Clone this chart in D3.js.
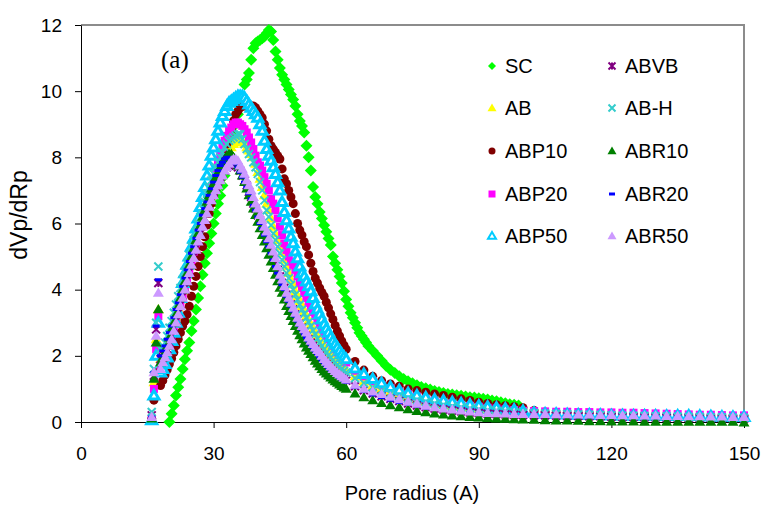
<!DOCTYPE html>
<html lang="en">
<head>
  <meta charset="UTF-8">
  <title>Pore size distribution</title>
  <script src="https://cdn.jsdelivr.net/npm/d3@7/dist/d3.min.js"></script>
  <style>
    body {
      margin: 0;
      padding: 0;
      background: #fff;
      font-family: Arial, "Liberation Sans", sans-serif;
    }
    .tick text {
      font-family: Arial, "Liberation Sans", sans-serif;
      font-size: 19px;
      fill: #000;
    }
    .legend text {
      font-size: 20px;
      fill: #000;
    }
  </style>
</head>
<body>
  <div id="chart"></div>
  <script>
    const width = 767;
    const height = 510;

    // radius grid shared by the AB family of samples
    const radius = [16, 16.5, 17, 17.5,
      18, 18.5, 19, 19.5, 20, 20.5, 21, 21.5, 22, 22.5,
      23, 23.5, 24, 24.5, 25, 25.5, 26, 26.5, 27, 27.5,
      28, 28.5, 29, 29.5, 30, 30.5, 31, 31.5, 32, 32.5,
      33, 33.5, 34, 34.5, 35, 35.5, 36, 36.5, 37, 37.5,
      38, 38.5, 39, 39.5, 40, 40.5, 41, 41.5, 42, 42.5,
      43, 43.5, 44, 44.5, 45, 45.5, 46, 46.5, 47, 47.5,
      48, 48.5, 49, 49.5, 50, 50.5, 51, 51.5, 52, 52.5,
      53, 53.5, 54, 54.5, 55, 55.5, 56, 56.5, 57, 57.5,
      58, 58.5, 59, 59.5, 60,
      62, 64, 66, 68, 70, 72, 74, 76, 78, 80, 82, 84, 86, 88, 90, 92, 94, 96, 98, 100,
      102.5, 105, 107.5, 110, 112.5, 115, 117.5, 120, 122.5, 125,
      127.5, 130, 132.5, 135, 137.5, 140, 142.5, 145, 147.5, 150];

    // SC has its own grid
    const scRadius = [20, 20.5, 21, 21.5, 22, 22.5, 23, 23.5, 24, 24.5,
      25, 25.5, 26, 26.5, 27, 27.5, 28, 28.5, 29, 29.5,
      30, 30.5, 31, 31.5, 32, 32.5, 33, 33.5, 34, 34.5,
      35, 35.5, 36, 36.5, 37, 37.5, 38, 38.5, 39, 39.5,
      40, 40.5, 41, 41.5, 42, 42.5, 43, 43.5, 44, 44.5,
      45, 45.5, 46, 46.5, 47, 47.5, 48, 48.5, 49, 49.5,
      50, 50.5, 51, 51.5, 52, 52.5, 53, 53.5, 54, 54.5,
      55, 55.5, 56, 56.5, 57, 57.5, 58, 58.5, 59, 59.5,
      60, 60.5, 61, 61.5, 62, 62.5, 63, 63.5, 64, 64.5,
      65,
      66, 67, 68, 69, 70, 71, 72, 73, 74, 75,
      76, 77, 78, 79, 80, 81, 82, 83, 84, 85,
      86, 87, 88, 89, 90, 91, 92, 93, 94, 95,
      96, 97, 98, 99];

    const SC = [0, 0.25, 0.5, 0.8, 1.05, 1.3, 1.6, 1.9, 2.15, 2.4,
      2.75, 3.05, 3.4, 3.75, 4.1, 4.45, 4.8, 5.1, 5.4, 5.7,
      6.0, 6.3, 6.6, 6.85, 7.15, 7.45, 7.8, 8.1, 8.4, 8.7,
      9.0, 9.3, 9.6, 9.85, 10.2, 10.35, 10.55, 10.95, 11.3, 11.45,
      11.5, 11.55, 11.6, 11.65, 11.75, 11.85, 11.8, 11.55, 11.2, 10.95,
      10.7, 10.5, 10.35, 10.2, 10.05, 9.9, 9.75, 9.55, 9.3, 9.1,
      8.95, 8.75, 8.35, 8.0, 7.6, 7.1, 6.8, 6.6, 6.35, 6.15,
      5.95, 5.75, 5.55, 5.35, 5.0, 4.8, 4.6, 4.4, 4.2, 3.95,
      3.7, 3.5, 3.3, 3.15, 3.0, 2.85, 2.7, 2.6, 2.5, 2.4,
      2.3,
      2.15, 2.0, 1.85, 1.7, 1.58, 1.48, 1.38, 1.3, 1.23, 1.17,
      1.11, 1.06, 1.02, 0.98, 0.94, 0.91, 0.88, 0.85, 0.83, 0.81,
      0.79, 0.77, 0.75, 0.74, 0.72, 0.7, 0.68, 0.65, 0.63, 0.6,
      0.57, 0.54, 0.52, 0.5];

    const AB = [0.1, 1.2, 2.5, 3.4,
      1.9, 2.0, 2.1, 2.3, 2.5, 2.7, 2.95, 3.2, 3.45, 3.7,
      3.95, 4.2, 4.45, 4.7, 4.95, 5.2, 5.45, 5.7, 5.9, 6.15,
      6.35, 6.6, 6.8, 7.0, 7.2, 7.4, 7.55, 7.7, 7.85, 8.0,
      8.1, 8.2, 8.3, 8.4, 8.45, 8.5, 8.5, 8.45, 8.4, 8.3,
      8.2, 8.1, 8.0, 7.8, 7.55, 7.35, 7.1, 6.85, 6.6, 6.4,
      6.15, 5.9, 5.7, 5.5, 5.3, 5.1, 4.9, 4.7, 4.5, 4.3,
      4.15, 3.95, 3.8, 3.65, 3.5, 3.35, 3.2, 3.07, 2.95, 2.82,
      2.7, 2.6, 2.5, 2.4, 2.3, 2.2, 2.1, 2.02, 1.95, 1.87,
      1.8, 1.74, 1.68, 1.62, 1.56,
      1.38, 1.22, 1.1, 1.0, 0.9, 0.82, 0.75, 0.68, 0.62, 0.57, 0.53, 0.49, 0.46, 0.43, 0.4, 0.38, 0.36, 0.34, 0.32, 0.3,
      0.29, 0.28, 0.27, 0.26, 0.25, 0.24, 0.23, 0.22, 0.21, 0.21,
      0.2, 0.19, 0.18, 0.18, 0.17, 0.16, 0.16, 0.15, 0.15, 0.14];

    const ABP10 = [0.1, 0.66, 1.5, 2.2,
      1.1, 1.25, 1.42, 1.58, 1.75, 1.92, 2.1, 2.3, 2.5, 2.7,
      2.9, 3.05, 3.25, 3.5, 3.8, 4.1, 4.4, 4.7, 5.0, 5.3,
      5.6, 5.95, 6.3, 6.6, 6.85, 7.1, 7.4, 7.65, 7.9, 8.15,
      8.4, 8.6, 8.85, 9.1, 9.3, 9.4, 9.5, 9.55, 9.55, 9.55,
      9.55, 9.55, 9.55, 9.5, 9.4, 9.3, 9.2, 9.0, 8.8, 8.55,
      8.35, 8.25, 8.15, 8.05, 7.95, 7.65, 7.35, 7.2, 7.0, 6.8,
      6.6, 6.3, 6.0, 5.8, 5.65, 5.45, 5.3, 5.05, 4.8, 4.55,
      4.35, 4.2, 4.05, 3.92, 3.8, 3.62, 3.45, 3.27, 3.1, 2.92,
      2.75, 2.6, 2.45, 2.32, 2.2,
      1.83, 1.57, 1.38, 1.25, 1.15, 1.08, 1.0, 0.95, 0.9, 0.85, 0.8, 0.75, 0.7, 0.65, 0.6, 0.56, 0.52, 0.49, 0.46, 0.43,
      0.35, 0.3, 0.28, 0.27, 0.26, 0.25, 0.24, 0.23, 0.22, 0.21,
      0.2, 0.2, 0.19, 0.18, 0.18, 0.17, 0.16, 0.16, 0.15, 0.15];

    const ABP20 = [0.1, 1.0, 2.2, 3.2,
      1.7, 1.8, 1.9, 2.1, 2.3, 2.5, 2.75, 3.0, 3.25, 3.5,
      3.8, 4.05, 4.35, 4.6, 4.9, 5.15, 5.4, 5.65, 5.9, 6.15,
      6.4, 6.65, 6.9, 7.1, 7.35, 7.6, 7.9, 8.1, 8.3, 8.5,
      8.65, 8.8, 8.9, 9.0, 9.05, 9.05, 9.0, 8.95, 8.85, 8.75,
      8.6, 8.45, 8.25, 8.05, 7.85, 7.75, 7.6, 7.4, 7.2, 7.0,
      6.75, 6.6, 6.4, 6.15, 5.9, 5.65, 5.4, 5.2, 5.0, 4.85,
      4.75, 4.6, 4.4, 4.2, 4.05, 3.9, 3.75, 3.6, 3.45, 3.32,
      3.2, 3.07, 2.95, 2.82, 2.7, 2.6, 2.5, 2.4, 2.3, 2.2,
      2.1, 2.02, 1.95, 1.87, 1.8,
      1.55, 1.38, 1.24, 1.12, 1.02, 0.92, 0.84, 0.77, 0.7, 0.65, 0.6, 0.56, 0.52, 0.49, 0.46, 0.43, 0.41, 0.38, 0.36, 0.34,
      0.33, 0.32, 0.31, 0.31, 0.3, 0.3, 0.29, 0.29, 0.28, 0.28,
      0.27, 0.26, 0.25, 0.24, 0.23, 0.22, 0.22, 0.21, 0.2, 0.2];

    const ABP50 = [0.05, 0.8, 2.0, 3.0,
      1.5, 1.6, 1.75, 1.95, 2.2, 2.45, 2.7, 3.0, 3.3, 3.75,
      4.2, 4.5, 4.75, 5.0, 5.3, 5.55, 5.85, 6.15, 6.5, 6.8,
      7.1, 7.45, 7.75, 8.05, 8.3, 8.55, 8.8, 9.05, 9.25, 9.4,
      9.55, 9.65, 9.7, 9.75, 9.8, 9.85, 9.85, 9.85, 9.8, 9.7,
      9.6, 9.5, 9.4, 9.3, 9.2, 9.0, 8.8, 8.5, 8.25, 8.05,
      7.9, 7.7, 7.5, 7.25, 7.0, 6.65, 6.35, 6.1, 5.85, 5.6,
      5.4, 5.15, 4.95, 4.7, 4.5, 4.4, 4.25, 4.1, 3.95, 3.75,
      3.55, 3.4, 3.25, 3.1, 2.95, 2.82, 2.7, 2.57, 2.45, 2.35,
      2.25, 2.15, 2.05, 1.97, 1.9,
      1.62, 1.45, 1.3, 1.17, 1.06, 0.96, 0.87, 0.8, 0.74, 0.68, 0.64, 0.6, 0.56, 0.52, 0.49, 0.46, 0.43, 0.4, 0.37, 0.33,
      0.27, 0.25, 0.24, 0.23, 0.22, 0.22, 0.21, 0.2, 0.2, 0.19,
      0.19, 0.19, 0.18, 0.19, 0.19, 0.18, 0.17, 0.16, 0.15, 0.15];

    const ABVB = [0.2, 1.4, 2.8, 4.2,
      1.9, 1.95, 2.0, 2.2, 2.4, 2.6, 2.85, 3.05, 3.3, 3.55,
      3.8, 4.05, 4.3, 4.55, 4.8, 5.0, 5.25, 5.5, 5.7, 5.95,
      6.15, 6.35, 6.55, 6.75, 6.95, 7.1, 7.25, 7.4, 7.5, 7.6,
      7.7, 7.75, 7.8, 7.8, 7.8, 7.7, 7.6, 7.45, 7.3, 7.15,
      6.95, 6.8, 6.6, 6.45, 6.25, 6.1, 5.9, 5.7, 5.5, 5.35,
      5.15, 4.95, 4.75, 4.6, 4.4, 4.2, 4.05, 3.85, 3.7, 3.55,
      3.4, 3.25, 3.1, 2.97, 2.85, 2.72, 2.6, 2.5, 2.4, 2.3,
      2.2, 2.1, 2.02, 1.93, 1.85, 1.77, 1.7, 1.63, 1.56, 1.5,
      1.44, 1.39, 1.34, 1.3, 1.25,
      1.08, 0.96, 0.86, 0.78, 0.7, 0.63, 0.56, 0.5, 0.45, 0.41, 0.38, 0.35, 0.32, 0.29, 0.27, 0.25, 0.24, 0.23, 0.22, 0.21,
      0.2, 0.2, 0.19, 0.18, 0.18, 0.17, 0.17, 0.16, 0.15, 0.15,
      0.14, 0.14, 0.13, 0.13, 0.12, 0.12, 0.11, 0.11, 0.1, 0.1];

    const ABH = [0.3, 1.6, 3.0, 4.7,
      2.2, 2.3, 2.4, 2.6, 2.85, 3.05, 3.3, 3.55, 3.8, 4.05,
      4.3, 4.55, 4.8, 5.05, 5.3, 5.5, 5.75, 6.0, 6.2, 6.45,
      6.65, 6.9, 7.1, 7.3, 7.5, 7.7, 7.85, 8.0, 8.15, 8.3,
      8.4, 8.5, 8.55, 8.6, 8.65, 8.7, 8.7, 8.55, 8.4, 8.25,
      8.1, 8.0, 7.85, 7.7, 7.5, 7.25, 7.0, 6.7, 6.4, 6.2,
      5.95, 5.7, 5.5, 5.3, 5.1, 4.9, 4.7, 4.5, 4.35, 4.15,
      4.0, 3.85, 3.7, 3.55, 3.4, 3.27, 3.15, 3.02, 2.9, 2.77,
      2.65, 2.52, 2.4, 2.3, 2.2, 2.1, 2.02, 1.95, 1.87, 1.8,
      1.73, 1.66, 1.6, 1.55, 1.5,
      1.32, 1.17, 1.05, 0.95, 0.86, 0.78, 0.71, 0.65, 0.6, 0.55, 0.51, 0.47, 0.44, 0.41, 0.38, 0.36, 0.34, 0.32, 0.3, 0.28,
      0.27, 0.26, 0.25, 0.24, 0.23, 0.22, 0.21, 0.2, 0.19, 0.19,
      0.18, 0.17, 0.17, 0.16, 0.15, 0.15, 0.14, 0.14, 0.13, 0.13];

    const ABR10 = [0.1, 1.3, 2.4, 3.4,
      1.8, 1.95, 2.1, 2.3, 2.55, 2.8, 3.0, 3.25, 3.5, 3.75,
      4.0, 4.25, 4.5, 4.75, 5.0, 5.25, 5.5, 5.7, 5.95, 6.2,
      6.4, 6.65, 6.85, 7.05, 7.2, 7.4, 7.55, 7.7, 7.85, 7.95,
      8.05, 8.1, 8.1, 8.0, 7.9, 7.75, 7.6, 7.45, 7.25, 7.05,
      6.85, 6.65, 6.45, 6.25, 6.05, 5.85, 5.65, 5.45, 5.25, 5.05,
      4.85, 4.65, 4.45, 4.25, 4.05, 3.9, 3.7, 3.5, 3.35, 3.2,
      3.05, 2.9, 2.75, 2.62, 2.5, 2.37, 2.25, 2.15, 2.05, 1.95,
      1.85, 1.76, 1.68, 1.6, 1.52, 1.46, 1.4, 1.34, 1.28, 1.23,
      1.18, 1.13, 1.08, 1.04, 1.0,
      0.86, 0.74, 0.65, 0.57, 0.5, 0.44, 0.38, 0.33, 0.29, 0.25, 0.22, 0.19, 0.17, 0.15, 0.13, 0.12, 0.1, 0.09, 0.08, 0.07,
      0.06, 0.05, 0.04, 0.04, 0.03, 0.02, 0.02, 0.01, 0.01, 0.01,
      0, 0, 0, 0, 0, 0, 0, 0, 0, -0.02];

    const ABR20 = [0.15, 1.5, 2.9, 4.3,
      2.0, 2.15, 2.3, 2.5, 2.7, 2.9, 3.15, 3.4, 3.6, 3.85,
      4.1, 4.35, 4.6, 4.85, 5.1, 5.3, 5.55, 5.8, 6.0, 6.25,
      6.45, 6.65, 6.85, 7.05, 7.25, 7.45, 7.6, 7.75, 7.85, 7.95,
      8.0, 8.0, 7.95, 7.9, 7.8, 7.7, 7.55, 7.4, 7.25, 7.1,
      6.9, 6.75, 6.55, 6.4, 6.2, 6.0, 5.85, 5.65, 5.45, 5.3,
      5.1, 4.9, 4.7, 4.5, 4.35, 4.15, 4.0, 3.8, 3.65, 3.5,
      3.35, 3.2, 3.05, 2.92, 2.8, 2.67, 2.55, 2.45, 2.35, 2.25,
      2.15, 2.06, 1.97, 1.88, 1.8, 1.72, 1.65, 1.58, 1.52, 1.46,
      1.4, 1.35, 1.3, 1.25, 1.2,
      1.04, 0.92, 0.82, 0.74, 0.66, 0.59, 0.53, 0.47, 0.42, 0.38, 0.35, 0.32, 0.29, 0.27, 0.25, 0.23, 0.22, 0.21, 0.2, 0.19,
      0.18, 0.18, 0.17, 0.17, 0.16, 0.16, 0.15, 0.15, 0.14, 0.14,
      0.13, 0.13, 0.13, 0.12, 0.12, 0.12, 0.11, 0.11, 0.11, 0.1];

    const ABR50 = [0.15, 1.5, 2.6, 3.9,
      1.6, 1.8, 1.95, 2.1, 2.3, 2.5, 2.75, 3.0, 3.25, 3.5,
      3.75, 4.0, 4.25, 4.5, 4.75, 4.95, 5.2, 5.45, 5.65, 5.9,
      6.1, 6.3, 6.5, 6.7, 6.85, 7.0, 7.15, 7.3, 7.45, 7.6,
      7.7, 7.8, 7.9, 7.95, 7.95, 7.9, 7.75, 7.65, 7.5, 7.3,
      7.15, 7.0, 6.8, 6.6, 6.45, 6.25, 6.1, 5.9, 5.75, 5.55,
      5.35, 5.15, 4.95, 4.7, 4.45, 4.3, 4.1, 3.9, 3.75, 3.6,
      3.45, 3.3, 3.15, 3.0, 2.9, 2.8, 2.7, 2.55, 2.45, 2.35,
      2.25, 2.17, 2.1, 2.0, 1.9, 1.82, 1.75, 1.67, 1.6, 1.54,
      1.48, 1.43, 1.38, 1.33, 1.28,
      1.12, 1.0, 0.92, 0.84, 0.76, 0.68, 0.61, 0.55, 0.49, 0.44, 0.4, 0.37, 0.34, 0.31, 0.29, 0.27, 0.26, 0.25, 0.24, 0.24,
      0.24, 0.24, 0.23, 0.23, 0.22, 0.22, 0.21, 0.21, 0.2, 0.2,
      0.19, 0.19, 0.18, 0.18, 0.17, 0.17, 0.16, 0.16, 0.15, 0.15];

    const xTicks = [0, 30, 60, 90, 120, 150];
    const yTicks = [0, 2, 4, 6, 8, 10, 12];

    // drawing order follows the legend order
    const series = [
      { name: "SC", x: scRadius, y: SC, marker: "diamond", color: "#00ff00" },
      { name: "AB", x: radius, y: AB, marker: "triangle", color: "#ffff00" },
      { name: "ABP10", x: radius, y: ABP10, marker: "circle", color: "#800000" },
      { name: "ABP20", x: radius, y: ABP20, marker: "square", color: "#ff00ff" },
      { name: "ABP50", x: radius, y: ABP50, marker: "openTriangle", color: "#00ccff" },
      { name: "ABVB", x: radius, y: ABVB, marker: "star", color: "#800080" },
      { name: "AB-H", x: radius, y: ABH, marker: "cross", color: "#33cccc" },
      { name: "ABR10", x: radius, y: ABR10, marker: "triangle", color: "#008000" },
      { name: "ABR20", x: radius, y: ABR20, marker: "dash", color: "#0000ff" },
      { name: "ABR50", x: radius, y: ABR50, marker: "triangle", color: "#cc99ff" }
    ];

    const margin = { left: 81, right: 23, top: 25, bottom: 88 };

    const svg = d3.select("#chart").append("svg")
      .attr("width", width)
      .attr("height", height);

    const x = d3.scaleLinear().domain([0, 150]).range([margin.left, width - margin.right]);
    const y = d3.scaleLinear().domain([0, 12]).range([height - margin.bottom, margin.top]);

    function markerPath(type, s) {
      const h = s / 2;
      switch (type) {
        case "diamond": return `M0,${-h}L${h},0L0,${h}L${-h},0Z`;
        case "triangle":
        case "openTriangle": return `M0,${-s * 0.5}L${h},${s * 0.35}L${-h},${s * 0.35}Z`;
        case "square": return `M${-h},${-h}h${s}v${s}h${-s}Z`;
        case "circle": return d3.symbol(d3.symbolCircle, Math.PI * h * h)();
        case "cross": return `M${-h},${-h}L${h},${h}M${h},${-h}L${-h},${h}`;
        case "star": return `M${-h},${-h}L${h},${h}M${h},${-h}L${-h},${h}M0,${-h}V${h}`;
        case "dash": return `M${-h},-1.5h${s}v3h${-s}Z`;
      }
    }

    function styleMarker(sel, d, open) {
      if (d.marker === "cross" || d.marker === "star") {
        sel.attr("fill", "none").attr("stroke", d.color).attr("stroke-width", 2);
      } else if (d.marker === "openTriangle") {
        sel.attr("fill", "#fff").attr("stroke", d.color).attr("stroke-width", open ? 2 : 3);
      } else {
        sel.attr("fill", d.color).attr("stroke", "none");
      }
    }

    const markerSize = { diamond: 12, triangle: 11, openTriangle: 10, square: 8, circle: 9, cross: 8, star: 8, dash: 7 };
    const legendSize = { diamond: 8, triangle: 9, openTriangle: 8, square: 7, circle: 7, cross: 7, star: 7, dash: 6 };

    // plot area border (top and right)
    svg.append("path")
      .attr("d", `M${x(0)},${y(12)}H${x(150)}V${y(0)}`)
      .attr("fill", "none")
      .attr("stroke", "#8c8c8c")
      .attr("stroke-width", 2);

    // axes
    const xAxis = svg.append("g")
      .attr("transform", `translate(0,${y(0)})`)
      .call(d3.axisBottom(x).tickValues(xTicks).tickSize(6).tickPadding(19).tickSizeOuter(0));
    const yAxis = svg.append("g")
      .attr("transform", `translate(${x(0)},0)`)
      .call(d3.axisLeft(y).tickValues(yTicks).tickSize(6).tickPadding(13).tickSizeOuter(0));
    [xAxis, yAxis].forEach(a => {
      a.select(".domain").attr("stroke", "#000");
      a.selectAll(".tick line").attr("stroke", "#000");
    });

    // data markers
    series.forEach(s => {
      const pts = s.x.map((r, i) => [r, s.y[i]]).filter(p => p[1] !== undefined);
      const g = svg.append("g");
      g.selectAll("path")
        .data(pts)
        .join("path")
        .attr("transform", p => `translate(${x(p[0])},${y(p[1])})`)
        .attr("d", markerPath(s.marker, markerSize[s.marker]))
        .call(sel => styleMarker(sel, s, false));
    });

    // axis titles
    svg.append("text")
      .attr("x", 412)
      .attr("y", 500)
      .attr("text-anchor", "middle")
      .attr("font-size", 20)
      .text("Pore radius (A)");

    svg.append("text")
      .attr("transform", "translate(27,215) rotate(-90)")
      .attr("text-anchor", "middle")
      .attr("font-size", 23)
      .text("dVp/dRp");

    svg.append("text")
      .attr("x", 161)
      .attr("y", 68)
      .attr("font-family", "'Liberation Serif', 'Times New Roman', serif")
      .attr("font-size", 25)
      .text("(a)");

    // legend, two columns
    const legendRows = [66, 108, 151, 194, 236];
    const legendCols = [492, 612];
    const legend = svg.append("g").attr("class", "legend");
    series.forEach((s, i) => {
      const cx = legendCols[Math.floor(i / 5)];
      const cy = legendRows[i % 5];
      const item = legend.append("g").attr("transform", `translate(${cx},${cy})`);
      item.append("path")
        .attr("d", markerPath(s.marker, legendSize[s.marker]))
        .call(sel => styleMarker(sel, s, true));
      item.append("text")
        .attr("x", 13)
        .attr("y", 7)
        .text(s.name);
    });
  </script>
</body>
</html>
